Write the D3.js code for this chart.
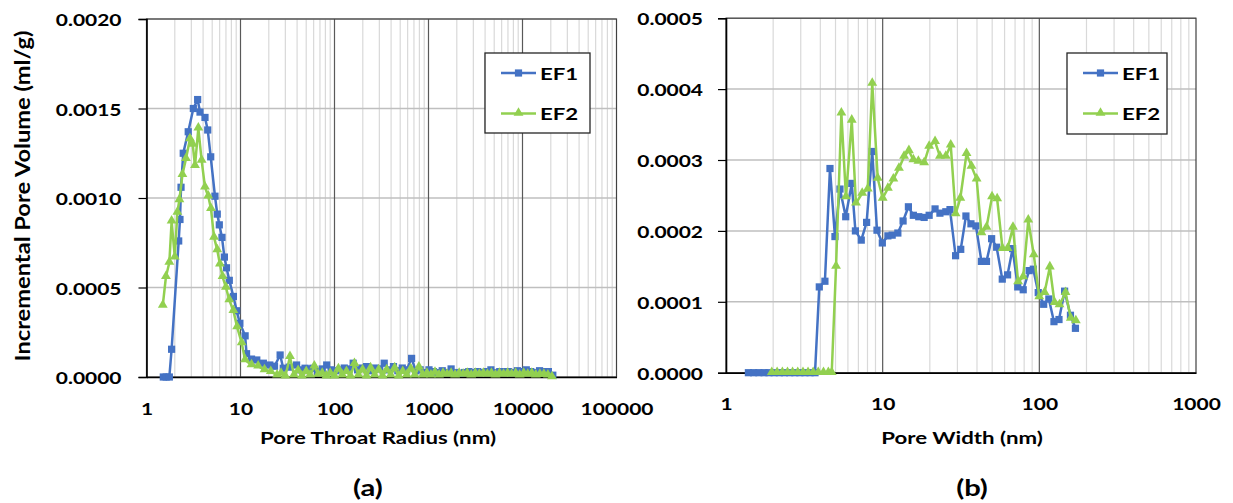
<!DOCTYPE html>
<html>
<head>
<meta charset="utf-8">
<script src="https://cdn.jsdelivr.net/npm/d3@7"></script>
<style>
  html, body { margin: 0; padding: 0; background: #fff; }
  svg text { font-family: Lato, "Open Sans", sans-serif; font-weight: 700; fill: #000; }
</style>
</head>
<body>
<svg id="chart" width="1233" height="503"></svg>
<script>
// ---- Panel (a): MICP pore throat radius distribution ----
const radiusEF1 = [1.51, 1.62, 1.75, 1.85, 2.2, 2.27, 2.33, 2.46, 2.78, 3.15, 3.5, 3.71, 4.19, 4.48, 4.82, 5.35, 5.66, 5.95, 6.35, 6.74, 7.1, 7.6, 8.4, 9.1, 9.85, 11.2, 11.6, 13.1, 14.9,
  17.5, 20.5, 23, 26.4, 28.5, 33, 39.5, 44, 48.6, 54, 59, 66, 74, 82.6, 92, 102, 114, 127, 142, 158, 176, 196, 219, 244, 272, 303, 338, 376, 424, 472, 526, 586, 661, 730, 815, 908,
  1012, 1128, 1257, 1400, 1560, 1740, 1938, 2160, 2407, 2683, 2990, 3332, 3713, 4138, 4611, 5139, 5727, 6382, 7112, 7926, 8833, 9843, 10970, 12225, 13624, 15183, 16920, 18856, 21013];
const volumeEF1 = [0, 0, 0, 0.000155, 0.00076, 0.00088, 0.00106, 0.00125, 0.00137, 0.00150, 0.00155, 0.00148, 0.00145, 0.00138, 0.00123, 0.00101, 0.00091, 0.00085, 0.00078, 0.00067, 0.00061, 0.00054, 0.00045, 0.00037, 0.00030, 0.00023, 0.00013, 0.00010, 0.000095,
  0.000077, 0.000067, 0.00006, 0.000123, 0.000049, 0.000055, 0.000067, 0.00004, 0.000049, 0.000045, 0.000049, 0.00003, 0.000045, 0.000067, 0.00004, 0.000035, 0.000039, 0.00005, 0.000045, 0.000077, 0.00004, 0.00005, 0.000058, 0.000035, 0.00005, 0.000045, 0.000077, 0.00004, 0.000058, 0.000035, 0.00005, 0.00004, 0.000104, 0.000035, 0.00004, 0.000025,
  0.00004, 0.00003, 0.000025, 0.000035, 0.000025, 0.000045, 0.000025, 0.00002, 0.000025, 0.00003, 0.000025, 0.00003, 0.000025, 0.00003, 0.00004, 0.000025, 0.00003, 0.00003, 0.00003, 0.000025, 0.000035, 0.00003, 0.00004, 0.00003, 0.000025, 0.000035, 0.00003, 0.00003, 0.00001];

const radiusEF2 = [1.49, 1.61, 1.75, 1.85, 2.0, 2.13, 2.24, 2.41, 2.63, 2.9, 3.1, 3.28, 3.56, 3.86, 4.19, 4.54, 4.85, 5.23, 5.66, 6.04, 6.45, 7.0, 7.6, 8.4, 9.2, 10.3, 11.2, 13.1, 15.4,
  18, 21, 24.5, 27, 30, 33.6, 37, 41, 45, 50, 55, 61, 67, 74, 82, 90, 100, 110, 121, 134, 148, 163, 180, 199, 219, 242, 267, 295, 325, 359, 396, 437, 482, 532, 587, 648, 715, 790, 872, 962,
  1062, 1172, 1294, 1428, 1576, 1740, 1920, 2120, 2340, 2583, 2851, 3147, 3474, 3835, 4233, 4673, 5158, 5694, 6285, 6938, 7659, 8454, 9332, 10301, 11371, 12552, 13856, 15295, 16883, 18637, 20572];
const volumeEF2 = [0.0004, 0.00056, 0.00064, 0.00087, 0.00067, 0.00092, 0.00099, 0.00113, 0.00122, 0.00133, 0.0013, 0.00118, 0.00139, 0.00121, 0.00106, 0.00101, 0.00094, 0.00078, 0.00071, 0.00063, 0.00056, 0.0005, 0.00043, 0.00037, 0.00028, 0.00019, 0.000095, 0.000067, 0.00006,
  0.00004, 0.00003, 0.00001, 0.00002, 0.000005, 0.000113, 0.00001, 0.000035, 0.000005, 0.00003, 0.00001, 0.00006, 0.000015, 0.00002, 0.000005, 0.00002, 0.000005, 0.000045, 0.00001, 0.00003, 0.000005, 0.000075, 0.00001, 0.00004, 0.000005, 0.00005, 0.00001, 0.00004, 0.000005, 0.00004, 0.00001, 0.00005, 0.000005, 0.00003, 0.00001, 0.000045, 0.00001, 0.000055, 0.00001, 0.00002,
  0.00001, 0.000025, 0.00001, 0.00002, 0.000015, 0.00002, 0.00001, 0.00002, 0.000015, 0.00002, 0.00001, 0.00002, 0.000015, 0.00002, 0.000015, 0.00002, 0.00001, 0.00002, 0.000015, 0.00002, 0.000015, 0.00002, 0.00001, 0.00002, 0.000015, 0.00002, 0.00001, 0.000015, 0.000015, 0.00001, 0];

// ---- Panel (b): DFT pore width distribution ----
const widthEF1 = [1.39, 1.5, 1.62, 1.75, 1.88, 2.03, 2.19, 2.36, 2.55, 2.75, 2.96, 3.19, 3.44, 3.7, 3.94, 4.28, 4.61, 4.96, 5.34, 5.81, 6.35, 6.7, 7.3, 7.9, 8.58, 9.2, 9.95, 10.8, 11.5, 12.5, 13.5, 14.6, 15.7, 17.0, 18.4, 19.8, 21.6, 23.2, 25.3, 26.9, 29.2, 31.5, 34.0, 36.6, 39.4, 42.7, 46.0, 49.6, 53.4, 58.0, 62.7, 67.5, 72.8, 78.9, 86.1, 91.5, 98.4, 106.6, 115, 124, 133.5, 145, 158, 170];
const poreVolEF1 = [0, 0, 0, 0, 0, 0, 0, 0, 0, 0, 0, 0, 0, 0, 0.000121, 0.000129, 0.000288, 0.000192, 0.000259, 0.00022, 0.000267, 0.0002, 0.000187, 0.000212, 0.000312, 0.000201, 0.000183, 0.000193, 0.000194, 0.000197, 0.000214, 0.000234, 0.000222, 0.00022, 0.000219, 0.000222, 0.000231, 0.000225, 0.000227, 0.00023, 0.000165, 0.000174, 0.000221, 0.00021, 0.000207, 0.000157, 0.000157, 0.000189, 0.000177, 0.000132, 0.000138, 0.000175, 0.000121, 0.000117, 0.000144, 0.000146, 0.000113, 0.0000965, 0.000104, 0.000072, 0.000075, 0.000115, 0.000081, 0.0000626];

const widthEF2 = [1.96, 2.12, 2.29, 2.47, 2.66, 2.87, 3.1, 3.34, 3.6, 3.88, 4.19, 4.5, 4.73, 5.04, 5.45, 5.83, 6.35, 6.75, 7.4, 8.03, 8.58, 9.3, 10.0, 10.8, 11.7, 12.7, 13.7, 14.7, 15.7, 16.9, 18.4, 19.8, 21.6, 23.2, 25.3, 27.2, 29.2, 31.3, 34.3, 36.9, 39.8, 42.7, 46.0, 49.9, 53.8, 58.2, 62.7, 67.9, 73.2, 78.9, 85.0, 92.2, 99.9, 108, 116.7, 125, 134.5, 147, 158.8, 171];
const poreVolEF2 = [0, 0, 0, 0, 0, 0, 0, 0, 0, 0, 0, 0, 0, 0.00015, 0.000366, 0.000248, 0.000356, 0.000239, 0.000253, 0.000259, 0.000408, 0.000274, 0.000246, 0.00026, 0.000273, 0.000288, 0.000305, 0.000313, 0.0003, 0.000298, 0.000296, 0.000319, 0.000326, 0.000305, 0.000305, 0.000321, 0.000224, 0.000246, 0.000309, 0.000291, 0.000273, 0.000197, 0.000205, 0.000248, 0.000245, 0.000175, 0.000175, 0.000205, 0.000128, 0.000135, 0.000215, 0.000166, 0.000107, 0.000113, 0.000149, 0.0000987, 0.0000955, 0.000113, 0.0000767, 0.0000729];

const seriesNames = ["EF1", "EF2"];
const seriesColors = ["#4472C4", "#92D050"];
const ticksA = [1, 10, 100, 1000, 10000, 100000];
const ticksB = [1, 10, 100, 1000];
const yTicksA = [0, 0.0005, 0.001, 0.0015, 0.002];
const yTicksB = [0, 0.0001, 0.0002, 0.0003, 0.0004, 0.0005];

// Horizontal stretch applied to all lettering
const SX = 1.27;
const svg = d3.select("#chart");
svg.append("rect").attr("width", 1233).attr("height", 503).attr("fill", "#fff");

function label(x, y, s, size, anchor = "middle") {
  svg.append("text")
    .attr("transform", `translate(${x},${y}) scale(${SX},1)`)
    .attr("text-anchor", anchor)
    .attr("dominant-baseline", "central")
    .style("font-size", size + "px")
    .text(s);
}

function panel(cfg) {
  const x = d3.scaleLog().domain(cfg.xDomain).range(cfg.xRange);
  const y = d3.scaleLinear().domain(cfg.yDomain).range(cfg.yRange);
  const [x0, x1] = cfg.xRange, [y0, y1] = cfg.yRange;
  const g = svg.append("g");

  // minor and major vertical grid
  const lo = Math.log10(cfg.xDomain[0]), hi = Math.log10(cfg.xDomain[1]);
  const minor = [], major = [];
  for (let e = lo; e < hi; e++) {
    for (let k = 2; k <= 9; k++) minor.push(k * Math.pow(10, e));
    if (e > lo) major.push(Math.pow(10, e));
  }
  g.selectAll(".minor").data(minor).join("line")
    .attr("x1", d => x(d)).attr("x2", d => x(d)).attr("y1", y0).attr("y2", y1)
    .attr("stroke", "#d9d9d9").attr("stroke-width", 1.2);
  g.selectAll(".hgrid").data(cfg.yTicks.slice(1)).join("line")
    .attr("x1", x0).attr("x2", x1).attr("y1", d => y(d)).attr("y2", d => y(d))
    .attr("stroke", "#bfbfbf").attr("stroke-width", 1.5);
  g.selectAll(".major").data(major).join("line")
    .attr("x1", d => x(d)).attr("x2", d => x(d)).attr("y1", y0).attr("y2", y1)
    .attr("stroke", "#595959").attr("stroke-width", 1.2);
  // frame
  g.append("rect").attr("x", x0).attr("y", y1).attr("width", x1 - x0).attr("height", y0 - y1)
    .attr("fill", "none").attr("stroke", "#404040").attr("stroke-width", 1.2);

  // axes
  const ya = g.append("g").attr("transform", `translate(${x0},0)`)
    .call(d3.axisLeft(y).tickValues(cfg.yTicks).tickSize(8).tickFormat(d3.format(".4f")));
  ya.select(".domain").attr("stroke", "#000").attr("stroke-width", 1.6);
  ya.selectAll(".tick line").attr("stroke", "#000").attr("stroke-width", 1.2);
  ya.selectAll(".tick text").attr("x", -cfg.yLabelGap / SX).attr("dy", null)
    .attr("dominant-baseline", "central")
    .attr("transform", `scale(${SX},1)`).style("font-size", "16.5px");

  const xa = g.append("g").attr("transform", `translate(0,${y0})`)
    .call(d3.axisBottom(x).tickValues(cfg.xTicks).tickSize(0).tickPadding(0).tickFormat(d3.format("d")));
  xa.select(".domain").attr("stroke", "#000").attr("stroke-width", 1.6);
  xa.selectAll(".tick text").attr("y", 31).attr("dy", null)
    .attr("dominant-baseline", "central")
    .attr("transform", `scale(${SX},1)`).style("font-size", "16.5px");
  ya.selectAll("text").attr("fill", "#000");
  xa.selectAll("text").attr("fill", "#000");
  ya.attr("font-family", null); xa.attr("font-family", null);

  // series: EF1 squares, then EF2 triangles on top
  const line = d3.line().x(d => x(d[0])).y(d => y(d[1]));
  cfg.series.forEach((s, i) => {
    const pts = s.x.map((v, j) => [v, s.y[j]]);
    g.append("path").datum(pts).attr("d", line).attr("fill", "none")
      .attr("stroke", seriesColors[i]).attr("stroke-width", 2.5).attr("stroke-linejoin", "round");
    const sym = i === 0 ? d3.symbol(d3.symbolSquare, 52) : d3.symbol(d3.symbolTriangle, 42);
    g.selectAll(null).data(pts).join("path")
      .attr("transform", d => `translate(${x(d[0])},${y(d[1]) + (i === 1 ? -0.5 : 0)})`)
      .attr("d", sym).attr("fill", seriesColors[i]);
  });

  // legend
  const L = cfg.legend;
  g.append("rect").attr("x", L.x).attr("y", L.y).attr("width", L.w).attr("height", L.h)
    .attr("fill", "#fff").attr("stroke", "#262626").attr("stroke-width", 1.3);
  seriesNames.forEach((name, i) => {
    const cy = L.y + 20 + i * 40.5;
    g.append("line").attr("x1", L.x + 16).attr("x2", L.x + 51).attr("y1", cy).attr("y2", cy)
      .attr("stroke", seriesColors[i]).attr("stroke-width", 2.5);
    g.append("path").attr("transform", `translate(${L.x + 33.5},${cy + (i === 1 ? -0.5 : 0)})`)
      .attr("d", (i === 0 ? d3.symbol(d3.symbolSquare, 52) : d3.symbol(d3.symbolTriangle, 42))())
      .attr("fill", seriesColors[i]);
    label(L.x + 55, cy, name, 17.5, "start");
  });

  label(cfg.xTitle[0], cfg.xTitle[1], cfg.xTitle[2], 17.5);
  label(cfg.tag[0], cfg.tag[1], cfg.tag[2], 23);
}

panel({
  xDomain: [1, 100000], xRange: [146.5, 616.5],
  yDomain: [0, 0.002], yRange: [377, 19],
  xTicks: ticksA, yTicks: yTicksA, yLabelGap: 25,
  series: [{ x: radiusEF1, y: volumeEF1 }, { x: radiusEF2, y: volumeEF2 }],
  legend: { x: 485, y: 53, w: 105, h: 80 },
  xTitle: [378, 437, "Pore Throat Radius (nm)"],
  tag: [368, 487, "(a)"]
});
panel({
  xDomain: [1, 1000], xRange: [726, 1196],
  yDomain: [0, 0.0005], yRange: [372.7, 18.2],
  xTicks: ticksB, yTicks: yTicksB, yLabelGap: 23,
  series: [{ x: widthEF1, y: poreVolEF1 }, { x: widthEF2, y: poreVolEF2 }],
  legend: { x: 1067, y: 53, w: 100, h: 81 },
  xTitle: [962, 437, "Pore Width (nm)"],
  tag: [972, 487, "(b)"]
});

// y-axis title of panel (a)
svg.append("text")
  .attr("transform", "translate(22,196) rotate(-90) scale(1.1,1)")
  .attr("text-anchor", "middle").attr("dominant-baseline", "central")
  .style("font-size", "21.5px").text("Incremental Pore Volume (ml/g)");
</script>
</body>
</html>
